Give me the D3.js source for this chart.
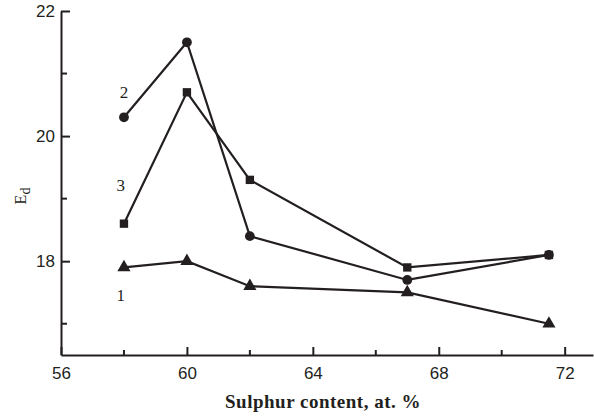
<!DOCTYPE html>
<html>
<head>
<meta charset="utf-8">
<script src="https://cdn.jsdelivr.net/npm/d3@7"></script>
<style>
  body { margin: 0; background: #fff; }
  svg { display: block; }
  .tick text { font-family: "Liberation Sans", Arial, sans-serif; font-size: 17px; fill: #231f20; }
</style>
</head>
<body>
<svg id="chart"></svg>
<script>
// sulphur content (at. %)
const sulphur = [58, 60, 62, 67, 71.5];
// E_d for each curve
const curve1 = [17.9, 18.0, 17.6, 17.5, 17.0];   // triangles
const curve2 = [20.3, 21.5, 18.4, 17.7, 18.1];   // circles
const curve3 = [18.6, 20.7, 19.3, 17.9, 18.1];   // squares
const xTicks = [56, 60, 64, 68, 72];
const xMinor = [58, 62, 66, 70];
const yTicks = [18, 20, 22];
const yMinor = [17, 19, 21];

const width = 594, height = 416;
const margin = { top: 11, right: 1, bottom: 61, left: 61 };
const ink = "#231f20";

const svg = d3.select("#chart")
    .attr("width", width)
    .attr("height", height);

const x = d3.scaleLinear().domain([56, 72.9]).range([margin.left, width - margin.right]);
const y = d3.scaleLinear().domain([16.5, 22]).range([height - margin.bottom, margin.top]);

// Axes - ticks point into the plot
const xAxis = svg.append("g")
    .attr("transform", `translate(0, ${y(16.5)})`)
    .call(d3.axisBottom(x).tickValues(xTicks).tickFormat(d3.format("d"))
        .tickSizeInner(-8).tickSizeOuter(0).tickPadding(7));
xAxis.select(".domain").attr("stroke", ink).attr("stroke-width", 2);
xAxis.selectAll(".tick line").attr("stroke", ink).attr("stroke-width", 2);
xAxis.selectAll(".tick text").attr("dy", "1em");

svg.append("g")
    .selectAll("line")
    .data(xMinor)
    .join("line")
    .attr("x1", d => x(d)).attr("x2", d => x(d))
    .attr("y1", y(16.5)).attr("y2", y(16.5) - 5)
    .attr("stroke", ink).attr("stroke-width", 2);

const yAxis = svg.append("g")
    .attr("transform", `translate(${x(56)}, 0)`)
    .call(d3.axisLeft(y).tickValues(yTicks).tickFormat(d3.format("d"))
        .tickSizeInner(-9).tickSizeOuter(0).tickPadding(6));
yAxis.select(".domain").attr("stroke", ink).attr("stroke-width", 2);
yAxis.selectAll(".tick line").attr("stroke", ink).attr("stroke-width", 2);

svg.append("g")
    .selectAll("line")
    .data(yMinor)
    .join("line")
    .attr("x1", x(56)).attr("x2", x(56) + 6)
    .attr("y1", d => y(d)).attr("y2", d => y(d))
    .attr("stroke", ink).attr("stroke-width", 2);

// Series
const series = [
    { name: "1", values: curve1, symbol: d3.symbolTriangle, size: 75 },
    { name: "2", values: curve2, symbol: d3.symbolCircle, size: 75 },
    { name: "3", values: curve3, symbol: d3.symbolSquare, size: 70 }
];

const line = d3.line()
    .x((d, i) => x(sulphur[i]))
    .y(d => y(d));

series.forEach(s => {
    svg.append("path")
        .datum(s.values)
        .attr("fill", "none")
        .attr("stroke", ink)
        .attr("stroke-width", 2.2)
        .attr("d", line);

    svg.append("g")
        .selectAll("path")
        .data(s.values)
        .join("path")
        .attr("transform", (d, i) => `translate(${x(sulphur[i])}, ${y(d)})`)
        .attr("d", d3.symbol().type(s.symbol).size(s.size))
        .attr("fill", ink);
});

// Curve numbers
const curveLabels = [
    { text: "2", xv: 58, yv: 20.67 },
    { text: "3", xv: 57.9, yv: 19.18 },
    { text: "1", xv: 57.9, yv: 17.43 }
];
svg.append("g")
    .selectAll("text")
    .data(curveLabels)
    .join("text")
    .attr("x", d => x(d.xv))
    .attr("y", d => y(d.yv))
    .attr("text-anchor", "middle")
    .attr("dominant-baseline", "middle")
    .attr("font-family", "Liberation Serif, Times New Roman, serif")
    .attr("font-size", 17)
    .attr("fill", ink)
    .text(d => d.text);

// Axis titles
svg.append("text")
    .attr("x", 323)
    .attr("y", 408)
    .attr("text-anchor", "middle")
    .attr("font-family", "Liberation Serif, Times New Roman, serif")
    .attr("font-weight", "bold")
    .attr("font-size", 19)
    .attr("letter-spacing", 0.5)
    .attr("fill", ink)
    .text("Sulphur content, at. %");

const yTitle = svg.append("text")
    .attr("transform", "translate(26, 196) rotate(-90)")
    .attr("text-anchor", "middle")
    .attr("font-family", "Liberation Serif, Times New Roman, serif")
    .attr("font-size", 16)
    .attr("fill", ink);
yTitle.append("tspan").text("E");
yTitle.append("tspan").attr("dy", 4).attr("font-size", 14).text("d");
</script>
</body>
</html>
